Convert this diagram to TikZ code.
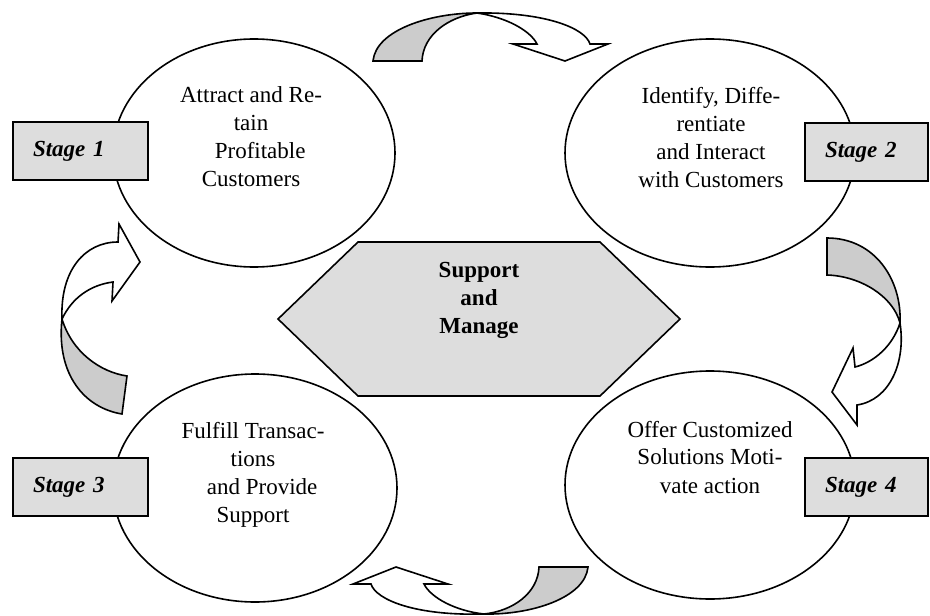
\documentclass[tikz,border=0pt]{standalone}
\usepackage{fontspec}
\setmainfont{Liberation Serif}
\usepackage{tikz}
\usetikzlibrary{positioning}
\usepackage{xcolor}
\definecolor{boxgray}{RGB}{221,221,221}
\definecolor{bandgray}{RGB}{204,204,204}
\newcommand{\cyclefont}{\fontsize{11.5}{14}\selectfont}
\tikzset{
  stagebox/.style={draw, line width=1pt, fill=boxgray, minimum height=29pt, inner xsep=10pt, align=left, font=\cyclefont\bfseries\itshape},
  phase/.style={align=center, anchor=north, inner sep=0pt, font=\cyclefont},
  backband/.style={draw, line width=0.8pt, fill=bandgray},
  frontband/.style={draw, line width=0.8pt, fill=white}
}

\begin{document}
\begin{tikzpicture}[x=0.5pt, y=-0.5pt, line width=0.8pt]
\useasboundingbox (0,0) rectangle (930,615);

% four stage ellipses
\draw (254,153) ellipse [x radius=141, y radius=114];
\draw (710,153) ellipse [x radius=145, y radius=114];
\draw (255,488) ellipse [x radius=142, y radius=114];
\draw (710,485) ellipse [x radius=145, y radius=114];

\node[phase] (attract) at (251,86) {Attract and Re-\\tain\\\hspace{.8em}Profitable\\Customers};
\node[phase] (identify) at (711,87) {Identify, Diffe-\\rentiate\\and Interact\\with Customers};
\node[phase] (fulfill) at (253,421) {Fulfill Transac-\\tions\\\hspace{.8em}and Provide\\Support};
\node[phase] (offer) at (710,420) {Offer Customized\\Solutions Moti-\\vate action};

% centre
\draw[fill=boxgray] (278,319) -- (358,242) -- (600,242) -- (680,319) -- (600,396) -- (358,396) -- cycle;
\node[phase, font=\cyclefont\bfseries] (manage) at (479,261) {Support\\and\\Manage};

% stage labels
\node[stagebox, text width=47.5pt] (st1) at (80.5,151) {Stage 1};
\node[stagebox, text width=41.5pt] (st2) at (866.5,152) {Stage 2};
\node[stagebox, text width=47.5pt] (st3) at (80.5,487) {Stage 3};
\node[stagebox, text width=41.5pt] (st4) at (866.5,487) {Stage 4};

% curved arrows, top
\draw[backband] (373,61) -- (422,61) .. controls (423,35) and (448,17) .. (477,13)
  .. controls (430,13) and (376,30) .. (373,61) -- cycle;
\draw[frontband] (477,13) .. controls (545,12) and (585,28) .. (590,44) -- (608,44) -- (565,61)
  -- (513,44) -- (537,44) .. controls (530,30) and (505,17) .. (477,13) -- cycle;

% right
\draw[backband] (827,238) .. controls (875,238) and (902,280) .. (900,323)
  .. controls (893,296) and (860,276) .. (827,275) -- cycle;
\draw[frontband] (900,323) .. controls (906,362) and (890,400) .. (857,405) -- (857,425) -- (832,392)
  -- (853,348) -- (855,367) .. controls (875,362) and (893,345) .. (900,323) -- cycle;

% bottom
\draw[backband] (588,567) -- (539,567) .. controls (538,593) and (513,611) .. (484,614)
  .. controls (531,615) and (585,598) .. (588,567) -- cycle;
\draw[frontband] (484,614) .. controls (416,616) and (376,600) .. (371,584) -- (353,584) -- (396,567)
  -- (448,584) -- (424,584) .. controls (431,598) and (456,611) .. (484,614) -- cycle;

% left
\draw[backband] (127,376) -- (122,414) .. controls (85,408) and (56,375) .. (62,319)
  .. controls (72,352) and (100,372) .. (127,376) -- cycle;
\draw[frontband] (62,319) .. controls (60,270) and (85,242) .. (118,242) -- (119,224) -- (140,262)
  -- (112,301) -- (113,282) .. controls (90,285) and (72,298) .. (62,319) -- cycle;
\end{tikzpicture}
\end{document}
